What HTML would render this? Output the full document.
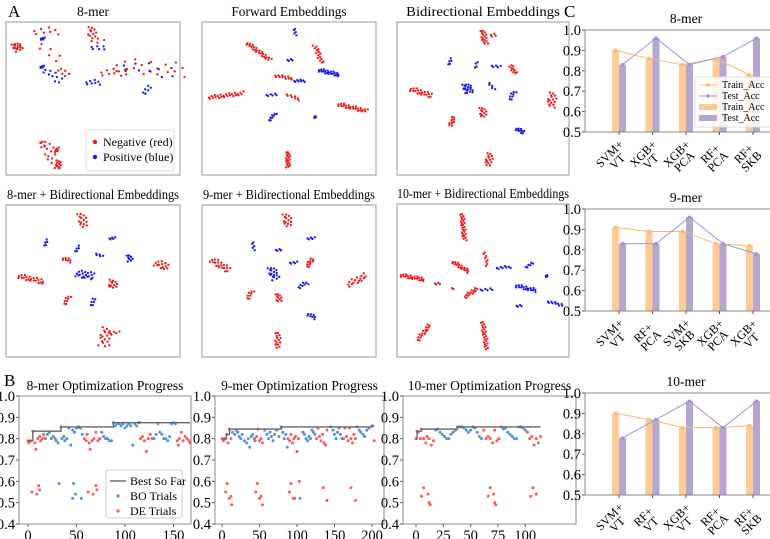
<!DOCTYPE html>
<html><head><meta charset="utf-8"><style>
html,body{margin:0;padding:0;background:#fff}
svg{display:block;font-family:"Liberation Serif",serif}
</style></head><body>
<svg id="fig" width="770" height="539" viewBox="0 0 770 539">
<text x="8" y="17" font-size="17">A</text>
<text x="4" y="386" font-size="17">B</text>
<text x="564" y="17" font-size="17">C</text>
</svg>
<script>
// ---------- Panel A: embedding cluster data [u, v, length, angleDeg, count, class, width] ----------
const emb8mer = [[6.3,16.3,5,60,18,0,3],[23,6,14,0,8,0,3],[21,11,2,0,5,1,1],[25,20,15,50,6,0,4],[20.7,29.4,2,0,5,1,1],[27,35,12,40,10,1,3],[33,33,6,60,6,0,3],[49.4,6.5,6,90,10,0,3],[52,12,6,30,5,0,3],[53,17,8,10,6,1,2],[50,39.5,8,0,8,1,2],[62,33,15,0,10,0,3],[83,30,40,5,18,0,6],[82,31,30,10,10,1,5],[81,44.4,6,-40,6,1,2],[25,85,15,70,14,0,4],[30,93.5,3,0,12,0,3],[29.3,83.7,2,0,6,0,2],[21,80,4,90,4,0,2]];
const embForward = [[53.4,6.5,4,90,5,1,1],[32.5,19.3,17,40,25,0,1.5],[50.6,24.8,3,0,4,1,1],[67,21,12,-110,15,0,1.5],[73,33,12,15,22,1,1.5],[47,36,10,10,12,0,1.2],[56,38.5,6,0,8,1,1],[13.8,48,20,-8,25,0,1.5],[40,47.7,6,0,6,1,1],[52.3,49,8,25,8,0,1],[86.5,56,17,15,25,0,1.5],[40.5,62,6,-50,8,1,1],[65,62,1,0,4,1,1],[49.4,90,10,90,18,0,1.5]];
const embBidir = [[50.6,10,9,80,16,0,2],[56,8.5,3,0,4,0,1.5],[30.8,26,4,-60,5,1,1],[46,28,4,-70,4,1,1],[57.5,29,5,10,5,1,1],[67.5,31,6,-120,10,0,1.5],[14,46,13,20,20,0,2],[41,43.5,6,70,20,1,3],[55,42,5,60,5,1,1],[67,48,6,-60,8,1,1.5],[90,51,9,100,16,0,3],[50,59,6,80,12,0,2.5],[32,65,6,110,10,0,1.5],[71.5,71,5,30,10,1,1.5],[53.5,90,8,100,14,0,2.5]];
const emb8Bi = [[44,10,9,75,14,0,3],[23,25,4,-60,5,1,1],[41,29,4,-50,5,1,1],[61,22,3,0,5,1,1],[35,36,5,20,8,0,1.5],[53.5,33,4,30,5,1,1],[71,35,4,80,8,1,2],[89.5,39.5,8,20,14,0,3],[45.4,46,10,10,20,1,3],[14.5,48.7,15,15,22,0,2],[61.5,52,5,90,12,0,3],[35,62.5,6,-60,8,0,1.5],[50,63.8,5,-60,6,1,1.5],[57,87,12,100,18,0,4],[62,84,6,0,5,0,1]];
const emb9Bi = [[49,10,8,80,14,0,3],[62.6,22,4,0,5,1,1],[29.5,27,5,90,5,1,1],[44,29.5,3,0,4,1,1],[10.5,39.5,12,35,20,0,2.5],[52.5,38,4,0,5,1,1],[62,38,6,-60,10,0,1.5],[41,45,8,70,18,1,3],[89,49.5,12,-30,16,0,2.5],[58,52.6,6,-30,8,1,1.5],[27.6,59,6,-60,8,0,1.5],[44,61,5,80,10,0,2],[63,73,5,30,8,1,1.5],[43.6,89,10,90,14,0,2]];
const emb10Bi = [[38.5,15,17,85,25,0,1.5],[51.7,36,9,80,8,0,1],[37,41,11,35,18,0,1.5],[62,41.5,8,-5,8,1,1],[77,40,5,-30,6,1,1],[87,47,1,0,4,1,1],[9,48,14,12,22,0,1.5],[23.5,52,3,0,4,0,1],[32.5,55,1,0,2,0,1],[43,58,9,-40,14,0,1.5],[52,56,7,0,6,1,1],[75,55,12,15,18,1,1.5],[92,65,9,15,10,1,1],[71,66.5,3,0,4,1,1],[15.5,84,12,-55,16,0,1.5],[51,86,18,82,24,0,1.5]];
const embTitles = ["8-mer","Forward Embeddings","Bidirectional Embeddings","8-mer + Bidirectional Embeddings","9-mer + Bidirectional Embeddings","10-mer + Bidirectional Embeddings"];

// ---------- Panel B: optimisation trial data [trial, accuracy] ----------
const opt8Bo = [[20,0.82],[22,0.83],[24,0.80],[26,0.81],[28,0.80],[29,0.79],[31,0.78],[34,0.855],[35,0.80],[37,0.81],[38,0.79],[40,0.80],[42,0.85],[44,0.77],[46,0.84],[48,0.83],[50,0.85],[52,0.855],[54,0.85],[56,0.82],[32,0.59],[47,0.59],[46,0.52],[49,0.54],[55,0.52],[76,0.83],[78,0.81],[80,0.80],[82,0.80],[84,0.79],[86,0.79],[88,0.875],[90,0.86],[92,0.87],[94,0.87],[96,0.86],[98,0.87],[100,0.85],[102,0.86],[104,0.87],[106,0.86],[108,0.77],[110,0.87],[112,0.86],[114,0.875],[130,0.80],[132,0.82],[134,0.87],[136,0.83],[138,0.82],[140,0.80],[142,0.80],[144,0.79],[146,0.81],[148,0.87],[150,0.875],[152,0.87]];
const opt8De = [[0,0.79],[1,0.78],[3,0.79],[5,0.835],[7,0.78],[8,0.75],[10,0.80],[12,0.81],[13,0.79],[15,0.80],[16,0.82],[18,0.80],[4,0.55],[9,0.54],[11,0.58],[12,0.56],[58,0.80],[60,0.79],[61,0.82],[63,0.78],[64,0.75],[66,0.79],[68,0.80],[70,0.83],[72,0.79],[74,0.80],[62,0.55],[67,0.54],[70,0.58],[71,0.56],[116,0.80],[118,0.81],[120,0.79],[122,0.74],[124,0.80],[126,0.82],[128,0.80],[115,0.875],[154,0.79],[155,0.77],[156,0.80],[158,0.83],[160,0.79],[162,0.81],[164,0.80],[166,0.79],[167,0.78]];
const opt9Bo = [[14,0.83],[17,0.82],[19,0.84],[21,0.83],[23,0.81],[25,0.80],[27,0.82],[30,0.79],[33,0.78],[35,0.80],[37,0.76],[39,0.81],[41,0.82],[43,0.80],[57,0.84],[60,0.82],[62,0.80],[64,0.83],[66,0.81],[68,0.79],[70,0.82],[73,0.84],[76,0.81],[79,0.855],[81,0.83],[83,0.80],[85,0.82],[87,0.76],[104,0.52],[108,0.83],[110,0.82],[112,0.80],[114,0.79],[116,0.81],[118,0.80],[120,0.84],[122,0.83],[124,0.82],[145,0.855],[148,0.84],[150,0.82],[152,0.80],[154,0.83],[156,0.85],[158,0.82],[160,0.80],[180,0.855],[183,0.84],[185,0.83],[188,0.82],[190,0.81],[193,0.84],[196,0.85],[200,0.86]];
const opt9De = [[0,0.80],[2,0.79],[4,0.80],[6,0.82],[8,0.78],[10,0.845],[12,0.80],[5,0.55],[7,0.59],[10,0.52],[12,0.53],[13,0.49],[44,0.79],[46,0.81],[48,0.845],[50,0.79],[52,0.80],[54,0.78],[45,0.55],[47,0.59],[50,0.52],[52,0.53],[54,0.49],[88,0.80],[90,0.79],[92,0.82],[94,0.78],[96,0.80],[98,0.81],[100,0.74],[102,0.80],[90,0.55],[92,0.59],[95,0.52],[97,0.52],[103,0.60],[126,0.80],[128,0.85],[130,0.81],[132,0.79],[134,0.82],[136,0.78],[138,0.77],[140,0.84],[135,0.57],[140,0.51],[162,0.80],[164,0.85],[166,0.81],[168,0.79],[170,0.85],[172,0.80],[174,0.78],[176,0.82],[178,0.80],[172,0.57],[178,0.51],[203,0.79]];
const opt10Bo = [[18,0.84],[20,0.845],[22,0.83],[24,0.82],[26,0.81],[28,0.80],[30,0.80],[32,0.82],[34,0.83],[36,0.84],[38,0.855],[40,0.855],[42,0.855],[44,0.85],[46,0.84],[48,0.83],[50,0.84],[52,0.855],[54,0.85],[56,0.83],[58,0.81],[60,0.80],[80,0.845],[82,0.85],[84,0.83],[86,0.82],[88,0.81],[90,0.80],[92,0.80],[94,0.855],[96,0.855],[98,0.85],[100,0.84]];
const opt10De = [[0,0.80],[1,0.835],[2,0.83],[4,0.80],[5,0.845],[7,0.80],[9,0.78],[10,0.81],[12,0.80],[14,0.77],[16,0.79],[5,0.53],[7,0.57],[11,0.54],[12,0.50],[13,0.49],[62,0.84],[64,0.80],[66,0.81],[68,0.80],[70,0.78],[72,0.84],[74,0.79],[76,0.80],[78,0.855],[66,0.53],[68,0.57],[71,0.54],[72,0.50],[73,0.49],[102,0.83],[104,0.80],[106,0.81],[108,0.77],[110,0.80],[112,0.78],[114,0.81],[105,0.53],[107,0.57],[110,0.54]];
const optYTicks = [1.0,0.9,0.8,0.7,0.6,0.5,0.4];
const opt8XTicks = [0,50,100,150];
const opt9XTicks = [0,50,100,150,200];
const opt10XTicks = [0,25,50,75,100];

// ---------- Panel C: accuracy data ----------
const acc8Cats = [["SVM+","VT"],["XGB+","VT"],["XGB+","PCA"],["RF+","PCA"],["RF+","SKB"]];
const acc8Train = [0.90,0.86,0.83,0.86,0.78];
const acc8Test = [0.83,0.96,0.83,0.87,0.96];
const acc9Cats = [["SVM+","VT"],["RF+","PCA"],["SVM+","SKB"],["XGB+","PCA"],["XGB+","VT"]];
const acc9Train = [0.91,0.89,0.89,0.83,0.82];
const acc9Test = [0.83,0.83,0.96,0.83,0.78];
const acc10Cats = [["SVM+","VT"],["RF+","VT"],["XGB+","VT"],["RF+","PCA"],["RF+","SKB"]];
const acc10Train = [0.90,0.87,0.83,0.83,0.84];
const acc10Test = [0.78,0.87,0.96,0.83,0.96];
const accYTicks = [1.0,0.9,0.8,0.7,0.6,0.5];

const NS = "http://www.w3.org/2000/svg";
const svg = document.getElementById('fig');
function mk(tag, attrs, parent){const e=document.createElementNS(NS,tag);for(const k in attrs)e.setAttribute(k,attrs[k]);(parent||svg).appendChild(e);return e;}

// ---- Panel A ----
const RED="#f01818", BLUE="#1818f0";
const J=[0,0.8,-0.6,0.4,-1,0.2,-0.3,0.9,-0.8,0.5];
function embPanel(box, clusters, title, idx){
  const g=mk('g',{});
  
  
  const sx=u=>box.x+u/100*box.w, sy=v=>box.y+v/100*box.h;
  const t=mk('text',{x:box.x+box.w/2,y:box.y-6,'font-size':13.5,'text-anchor':'middle',textLength:title.length>25?172:title.length*6.4,lengthAdjust:'spacingAndGlyphs'},g);
  t.textContent=title;
  
  
  clusters.forEach((c,ci)=>{
    const [cu,cv,len,ang,n,cls,w]=c;const a=ang*Math.PI/180;
    for(let i=0;i<n;i++){
      const tt=n>1?i/(n-1)-0.5:0;
      const al=tt*len+J[(i+3)%J.length]*w*0.25, pp=J[i%J.length]*w*0.8;
      const u=cu+al*Math.cos(a)-pp*Math.sin(a), v=cv+al*Math.sin(a)+pp*Math.cos(a);
      const p=mk('circle',{cx:sx(u),cy:sy(v),r:1.15,fill:cls?BLUE:RED},g);
      
      
    }
  });
  const r=mk('rect',{x:box.x,y:box.y,width:box.w,height:box.h,fill:'none',stroke:'#999','stroke-width':1},g);
  
  
}
const embBoxes=[{x:6,y:22,w:174,h:153},{x:202,y:22,w:174,h:153},{x:397,y:22,w:172,h:153},{x:6,y:205,w:174,h:152},{x:202,y:205,w:174,h:152},{x:397,y:204,w:172,h:153}];
[emb8mer,embForward,embBidir,emb8Bi,emb9Bi,emb10Bi].forEach((d,i)=>embPanel(embBoxes[i],d,embTitles[i],i));
{
  const lg=mk('g',{});
  
  
  mk('rect',{x:86,y:130,width:88,height:41,fill:'#fff',stroke:'#ddd',rx:2},lg);
  [["Negative (red)",RED,146],["Positive (blue)",BLUE,161]].forEach(([l,c,y])=>{
    mk('circle',{cx:95,cy:y-4,r:2.2,fill:c},lg);
    const t=mk('text',{x:103,y:y,'font-size':12},lg);t.textContent=l;
    
    
  });
}

// ---- Panel B ----
function optChart(cfg){
  const g=mk('g',{});
  
  
  const sx=v=>cfg.x0+v*cfg.k, sy=v=>cfg.top+(1.0-v)/0.6*(cfg.bot-cfg.top);
  const t=mk('text',{x:(cfg.l+cfg.r)/2,y:cfg.top-6,'font-size':13.5,'text-anchor':'middle'},g);
  t.textContent=cfg.title;
  
  
  optYTicks.forEach(v=>{
    mk('line',{x1:cfg.l-3,x2:cfg.l,y1:sy(v),y2:sy(v),stroke:'#555'},g);
    const tx=mk('text',{x:cfg.l-4,y:sy(v)+5,'font-size':14.5,'text-anchor':'end'},g);tx.textContent=v.toFixed(1);
    
    
  });
  cfg.xt.forEach(v=>{
    mk('line',{x1:sx(v),x2:sx(v),y1:cfg.bot,y2:cfg.bot+3,stroke:'#555'},g);
    const tx=mk('text',{x:sx(v),y:cfg.bot+16,'font-size':14.5,'text-anchor':'middle'},g);tx.textContent=v;
    
    
  });
  const all=cfg.bo.concat(cfg.de).slice().sort((a,b)=>a[0]-b[0]);
  let best=-1,d='';
  all.forEach((p,i)=>{ if(p[1]>best){ if(i===0)d='M'+sx(p[0])+' '+sy(p[1]); else d+=' L'+sx(p[0])+' '+sy(best)+' L'+sx(p[0])+' '+sy(p[1]); best=p[1]; } });
  d+=' L'+sx(all[all.length-1][0])+' '+sy(best);
  cfg.de.forEach(p=>{const c=mk('circle',{cx:sx(p[0]),cy:sy(p[1]),r:1.5,fill:'#ff5a5a'},g);
    
    });
  cfg.bo.forEach(p=>{const c=mk('circle',{cx:sx(p[0]),cy:sy(p[1]),r:1.5,fill:'#4f93dc'},g);
    
    });
  const bl=mk('path',{d:d,fill:'none',stroke:'#666','stroke-width':1.4},g);
  
  
  mk('rect',{x:cfg.l,y:cfg.top,width:cfg.r-cfg.l,height:cfg.bot-cfg.top,fill:'none',stroke:'#888'},g);
  return g;
}
optChart({name:'opt-chart-8mer',title:'8-mer Optimization Progress',l:19,r:191,top:396,bot:524,x0:28,k:0.97,xt:opt8XTicks,bo:opt8Bo,de:opt8De});
optChart({name:'opt-chart-9mer',title:'9-mer Optimization Progress',l:215,r:384,top:396,bot:524,x0:222,k:0.75,xt:opt9XTicks,bo:opt9Bo,de:opt9De});
optChart({name:'opt-chart-10mer',title:'10-mer Optimization Progress',l:403,r:576,top:396,bot:524,x0:416,k:1.093,xt:opt10XTicks,bo:opt10Bo,de:opt10De});
{
  const lg=mk('g',{});
  
  
  mk('rect',{x:106,y:470,width:76,height:48,fill:'#fff',stroke:'#ccc',rx:2},lg);
  mk('line',{x1:110,x2:126,y1:481,y2:481,stroke:'#666','stroke-width':1.4},lg);
  mk('circle',{cx:118,cy:496,r:1.6,fill:'#4f93dc'},lg);
  mk('circle',{cx:118,cy:511,r:1.6,fill:'#ff5a5a'},lg);
  [["Best So Far",485],["BO Trials",500],["DE Trials",515]].forEach(([l,y])=>{
    const t=mk('text',{x:130,y:y,'font-size':12},lg);t.textContent=l;
    
    
  });
}

// ---- Panel C ----
const OR="#fdcb93", PU="#b4a5d3", ORL="#fbb870", PUL="#a493cc";
function accChart(cfg){
  const g=mk('g',{});
  
  
  const sy=v=>cfg.top+(1.0-v)/0.5*(cfg.bot-cfg.top);
  const cx=i=>619+i*33.5;
  const L=585;
  const t=mk('text',{x:686,y:cfg.top-7,'font-size':13.5,'text-anchor':'middle'},g);t.textContent=cfg.title;
  
  
  accYTicks.forEach(v=>{
    mk('line',{x1:L-3,x2:L,y1:sy(v),y2:sy(v),stroke:'#555'},g);
    const tx=mk('text',{x:L-4,y:sy(v)+5,'font-size':14.5,'text-anchor':'end'},g);tx.textContent=v.toFixed(1);
    
    
  });
  cfg.train.forEach((v,i)=>{const b=mk('rect',{x:cx(i)-7,y:sy(v),width:7,height:sy(0.5)-sy(v),fill:OR},g);
    
    });
  cfg.test.forEach((v,i)=>{const b=mk('rect',{x:cx(i),y:sy(v),width:7,height:sy(0.5)-sy(v),fill:PU},g);
    
    });
  const lt=mk('polyline',{points:cfg.train.map((v,i)=>(cx(i)-3.5)+','+sy(v)).join(' '),fill:'none',stroke:ORL,'stroke-width':1},g);
  
  
  const ls=mk('polyline',{points:cfg.test.map((v,i)=>(cx(i)+3.5)+','+sy(v)).join(' '),fill:'none',stroke:PUL,'stroke-width':1},g);
  
  
  cfg.train.forEach((v,i)=>mk('circle',{cx:cx(i)-3.5,cy:sy(v),r:1.8,fill:ORL},g));
  cfg.test.forEach((v,i)=>mk('circle',{cx:cx(i)+3.5,cy:sy(v),r:1.8,fill:PUL},g));
  mk('path',{d:`M${L} ${cfg.top} H775 M${L} ${cfg.top} V${cfg.bot} H775`,fill:'none',stroke:'#888'},g);
  cfg.cats.forEach((c,i)=>{
    mk('line',{x1:cx(i),x2:cx(i),y1:cfg.bot,y2:cfg.bot+3,stroke:'#555'},g);
    const tg=mk('g',{transform:`translate(${cx(i)+4},${cfg.bot+14}) rotate(-45)`},g);
    const t1=mk('text',{x:-15,y:0,'font-size':12,'text-anchor':'middle'},tg);t1.textContent=c[0];
    const t2=mk('text',{x:-15,y:11,'font-size':12,'text-anchor':'middle'},tg);t2.textContent=c[1];
    
    
  });
}
accChart({name:'acc-chart-8mer',title:'8-mer',top:30,bot:132,cats:acc8Cats,train:acc8Train,test:acc8Test});
accChart({name:'acc-chart-9mer',title:'9-mer',top:209,bot:311,cats:acc9Cats,train:acc9Train,test:acc9Test});
accChart({name:'acc-chart-10mer',title:'10-mer',top:393,bot:495,cats:acc10Cats,train:acc10Train,test:acc10Test});
{
  const lg=mk('g',{});
  
  
  mk('rect',{x:695,y:77,width:80,height:50,fill:'#fff','fill-opacity':0.85,stroke:'#ddd',rx:2},lg);
  mk('line',{x1:699,x2:717,y1:85,y2:85,stroke:ORL},lg);mk('circle',{cx:708,cy:85,r:1.8,fill:ORL},lg);
  mk('line',{x1:699,x2:717,y1:96,y2:96,stroke:PUL},lg);mk('circle',{cx:708,cy:96,r:1.8,fill:PUL},lg);
  mk('rect',{x:699,y:104,width:18,height:6,fill:OR},lg);
  mk('rect',{x:699,y:115,width:18,height:6,fill:PU},lg);
  [["Train_Acc",88],["Test_Acc",99],["Train_Acc",110],["Test_Acc",121]].forEach(([l,y])=>{
    const t=mk('text',{x:722,y:y,'font-size':10},lg);t.textContent=l;
    
    
  });
}
</script>
</body></html>
